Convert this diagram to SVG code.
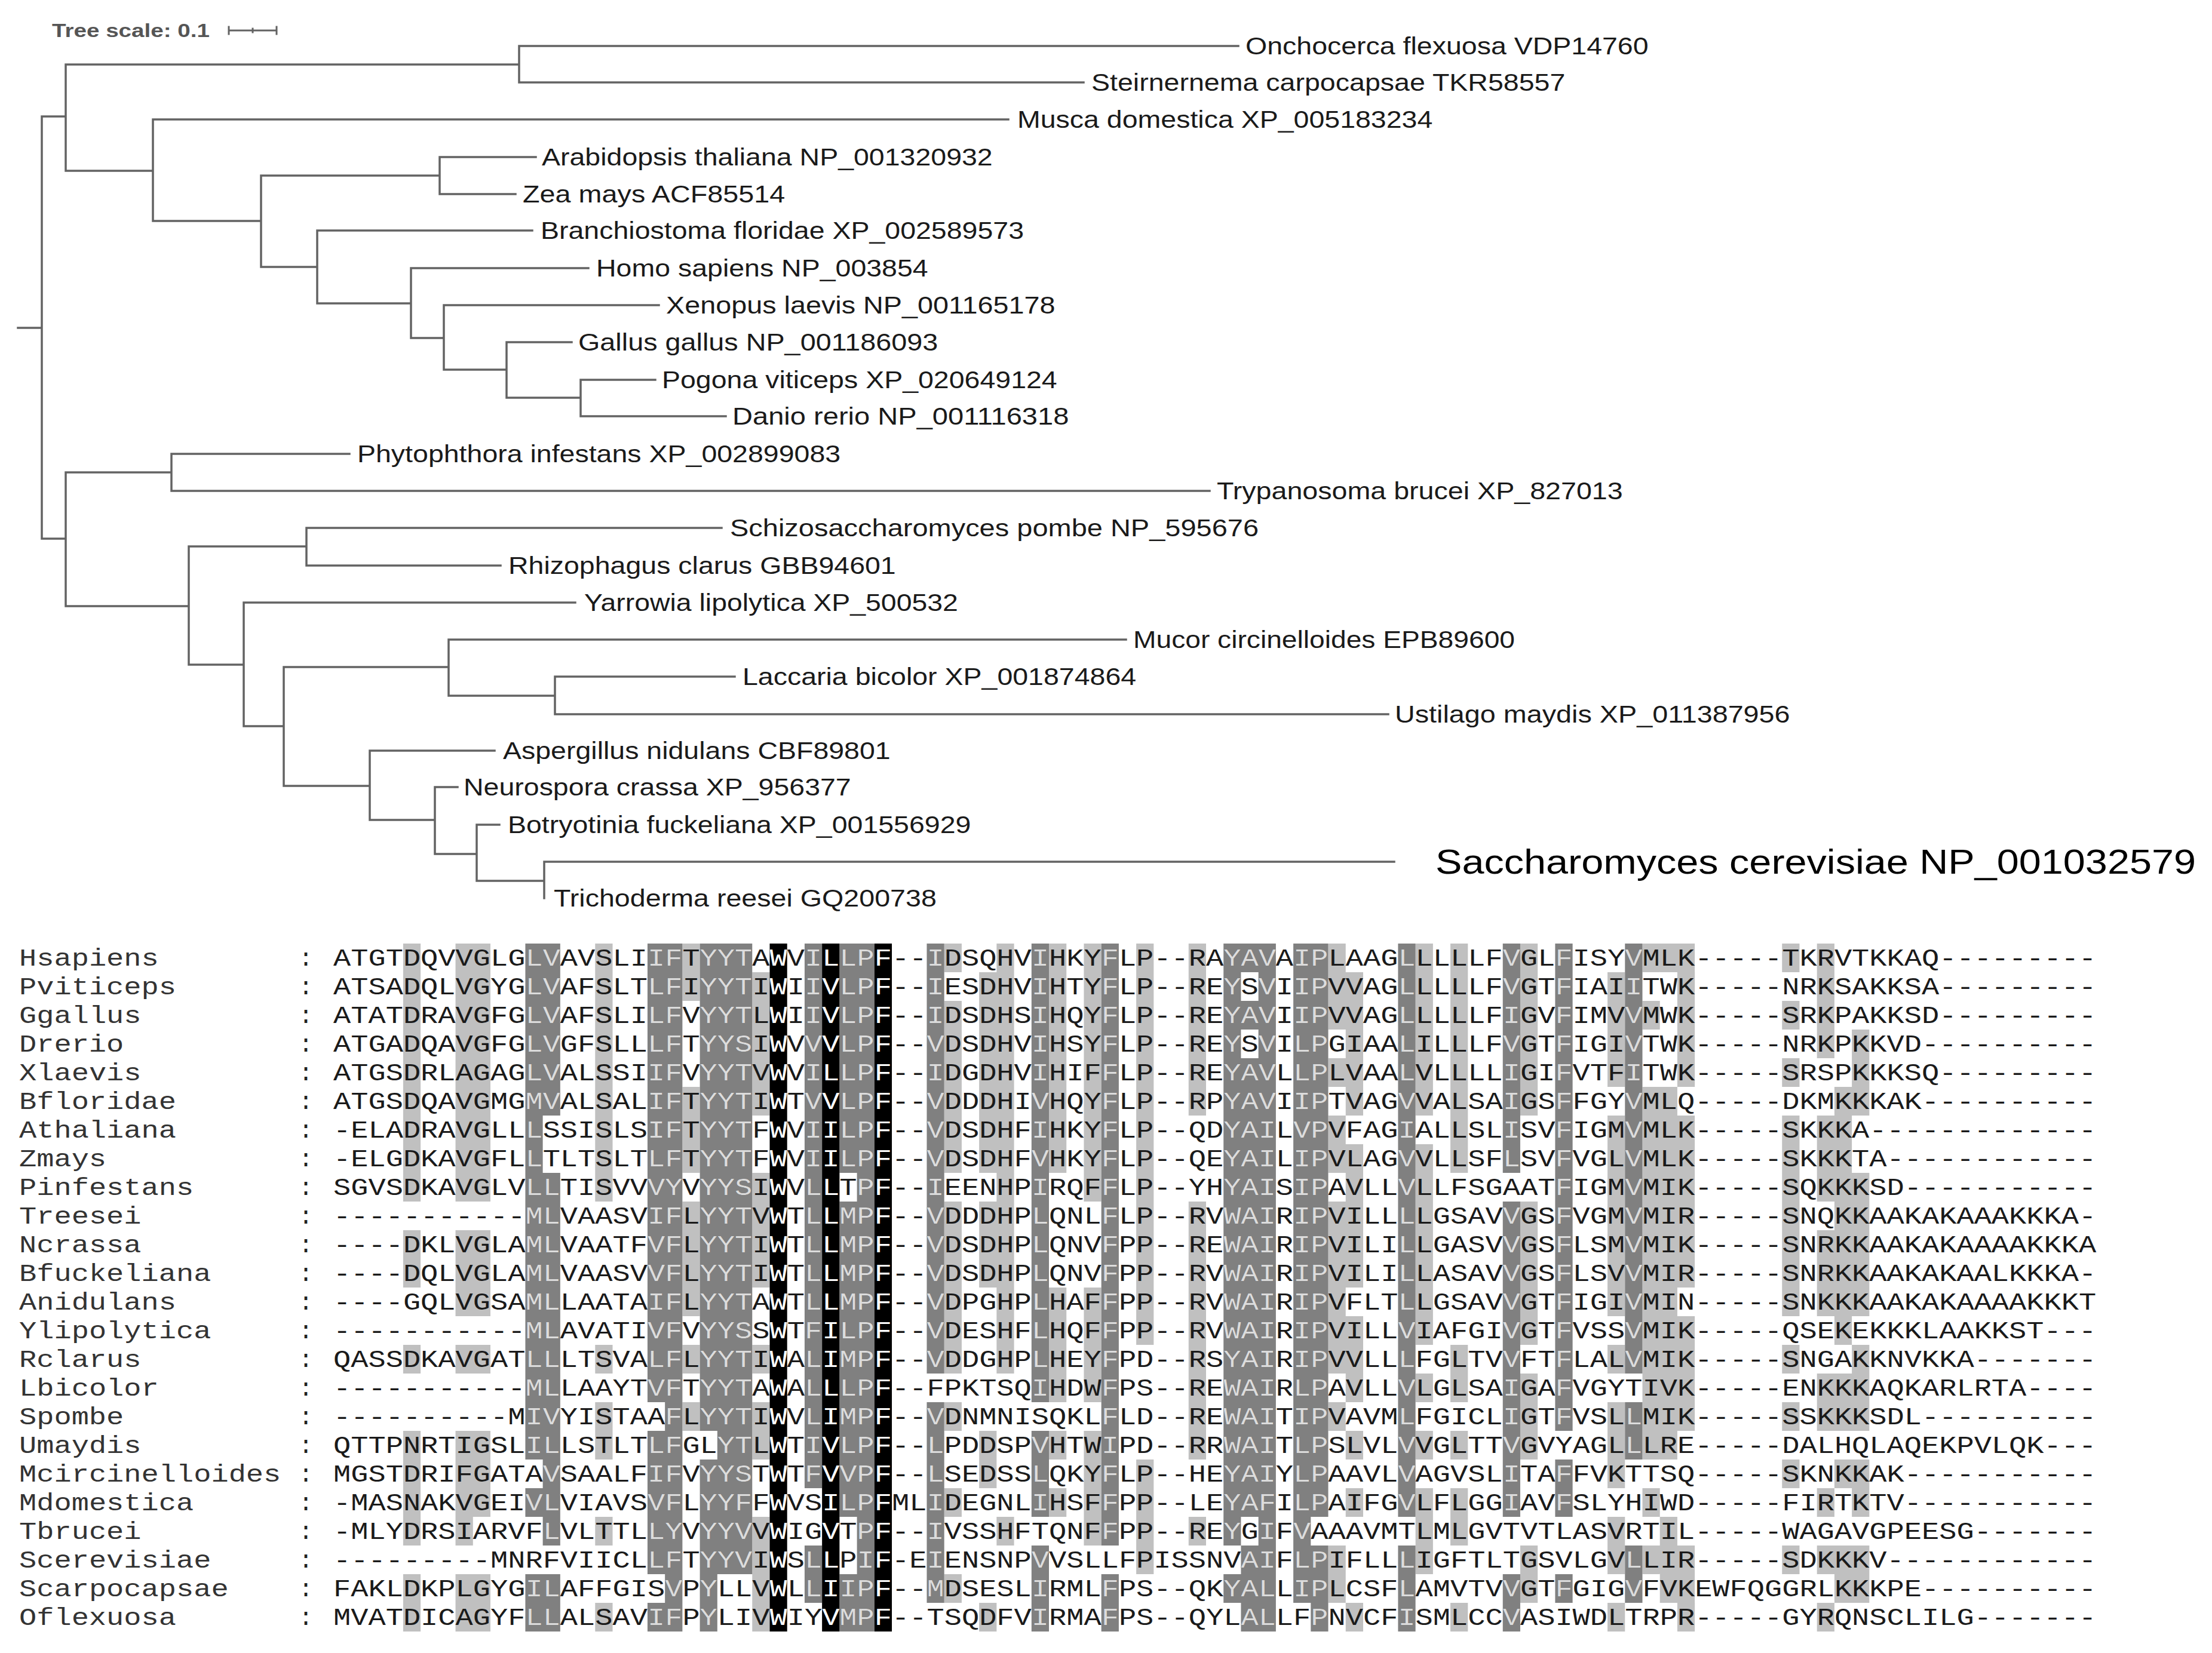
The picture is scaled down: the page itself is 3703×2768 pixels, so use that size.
<svg xmlns="http://www.w3.org/2000/svg" width="3703" height="2768" viewBox="0 0 3703 2768">
<style>
.lbl{font-family:"Liberation Sans",Arial,sans-serif;font-size:40px;fill:#1a1a1a}
.big{font-family:"Liberation Sans",Arial,sans-serif;font-size:57px;fill:#000}
.scl{font-family:"Liberation Sans",Arial,sans-serif;font-size:31px;font-weight:bold;fill:#555}
.mono{font-family:"Liberation Mono","Courier New",monospace;font-size:40px}
.br{fill:none;stroke:#636363;stroke-width:3.5;stroke-linecap:square}
.nm{fill:#333}
</style>
<defs>
<path id="pB" transform="translate(558 1580) scale(29.22 48)" d="M25 0h1v24h-1zM28 0h1v24h-1zM31 0h1v24h-1z"/>
<path id="pD" transform="translate(558 1580) scale(29.22 48)" d="M11 0h1v18h-1zM11 19h1v1h-1zM11 22h1v2h-1zM12 0h1v6h-1zM12 8h1v13h-1zM12 22h1v2h-1zM18 0h1v16h-1zM18 17h1v5h-1zM18 23h1v1h-1zM19 0h1v24h-1zM21 0h1v17h-1zM21 18h1v6h-1zM22 0h1v22h-1zM23 0h1v22h-1zM27 0h1v19h-1zM27 21h1v2h-1zM29 0h1v8h-1zM29 9h1v11h-1zM29 22h1v2h-1zM30 0h1v24h-1zM34 0h1v15h-1zM34 16h1v7h-1zM40 0h1v16h-1zM40 17h1v3h-1zM40 21h1v3h-1zM44 0h1v21h-1zM44 22h1v2h-1zM51 0h1v21h-1zM51 22h1v1h-1zM52 0h1v1h-1zM52 2h1v1h-1zM52 4h1v16h-1zM52 21h1v3h-1zM53 0h1v24h-1zM55 0h1v23h-1zM56 0h1v20h-1zM56 21h1v3h-1zM61 0h1v20h-1zM61 21h1v3h-1zM67 0h1v8h-1zM67 9h1v11h-1zM67 22h1v2h-1zM70 0h1v17h-1zM70 18h1v2h-1zM70 22h1v1h-1zM74 0h1v15h-1zM74 16h1v2h-1zM74 21h1v2h-1z"/>
<path id="pL" transform="translate(558 1580) scale(29.22 48)" d="M4 0h1v9h-1zM4 10h1v2h-1zM4 14h1v1h-1zM4 17h1v4h-1zM4 22h1v2h-1zM7 0h1v9h-1zM7 10h1v3h-1zM7 14h1v1h-1zM7 17h1v4h-1zM7 22h1v2h-1zM8 0h1v9h-1zM8 10h1v3h-1zM8 14h1v1h-1zM8 17h1v3h-1zM8 22h1v2h-1zM15 0h1v9h-1zM15 14h1v1h-1zM15 16h1v2h-1zM15 20h1v1h-1zM15 23h1v1h-1zM20 0h1v2h-1zM20 5h1v3h-1zM20 9h1v4h-1zM20 14h1v1h-1zM20 16h1v1h-1zM24 1h1v5h-1zM24 8h1v4h-1zM24 14h1v1h-1zM24 16h1v2h-1zM24 20h1v4h-1zM35 0h1v1h-1zM35 2h1v6h-1zM35 9h1v6h-1zM35 16h1v1h-1zM35 19h1v1h-1zM35 22h1v1h-1zM37 1h1v7h-1zM37 9h1v3h-1zM37 17h1v2h-1zM37 23h1v1h-1zM38 0h1v15h-1zM38 20h1v1h-1zM41 0h1v8h-1zM41 12h1v4h-1zM41 17h1v1h-1zM41 19h1v1h-1zM43 0h1v9h-1zM43 12h1v4h-1zM43 17h1v4h-1zM46 0h1v14h-1zM46 18h1v4h-1zM49 0h1v6h-1zM49 9h1v9h-1zM49 20h1v1h-1zM57 0h1v3h-1zM57 4h1v1h-1zM57 6h1v2h-1zM57 9h1v6h-1zM57 16h1v1h-1zM57 21h1v2h-1zM58 1h1v5h-1zM58 7h1v5h-1zM58 13h1v3h-1zM58 17h1v1h-1zM58 19h1v1h-1zM58 23h1v1h-1zM62 0h1v6h-1zM62 7h1v7h-1zM62 15h1v1h-1zM62 17h1v1h-1zM62 19h1v3h-1zM64 0h1v8h-1zM64 14h1v2h-1zM64 17h1v1h-1zM64 19h1v2h-1zM64 23h1v1h-1zM68 0h1v6h-1zM68 9h1v5h-1zM68 15h1v3h-1zM68 21h1v2h-1zM73 1h1v4h-1zM73 6h1v7h-1zM73 14h1v1h-1zM73 16h1v3h-1zM73 20h1v2h-1zM73 23h1v1h-1zM75 0h1v1h-1zM75 2h1v1h-1zM75 5h1v13h-1zM75 19h1v1h-1zM75 21h1v1h-1zM76 0h1v1h-1zM76 5h1v13h-1zM76 20h1v3h-1zM77 0h1v5h-1zM77 6h1v6h-1zM77 13h1v4h-1zM77 21h1v3h-1zM83 0h1v1h-1zM83 2h1v1h-1zM83 4h1v1h-1zM83 6h1v7h-1zM83 14h1v1h-1zM83 16h1v1h-1zM83 18h1v1h-1zM83 21h1v1h-1zM85 0h1v4h-1zM85 6h1v3h-1zM85 10h1v3h-1zM85 15h1v2h-1zM85 19h1v1h-1zM85 21h1v1h-1zM85 23h1v1h-1zM86 5h1v9h-1zM86 15h1v2h-1zM86 18h1v1h-1zM86 21h1v2h-1zM87 3h1v3h-1zM87 8h1v5h-1zM87 14h1v3h-1zM87 18h1v2h-1zM87 21h1v2h-1z"/>
<clipPath id="cB"><use href="#pB"/></clipPath>
<clipPath id="cD"><use href="#pD"/></clipPath>
</defs>
<rect width="3703" height="2768" fill="#fff"/>

<g id="tree-scale">
<text class="scl" x="87" y="62" textLength="264" lengthAdjust="spacingAndGlyphs">Tree scale: 0.1</text>
<path class="br" style="stroke-width:3" d="M383 51H463M383 45V57M463 45V57M423 48V54"/>
</g>

<g id="branches">
<path class="br" d="M30 549H70M70 195V902M70 195H110M110 108V286M110 108H869M869 77V138M869 77H2073M869 138H1814M110 286H256M256 200V370M256 200H1688M256 370H437M437 294V447M437 294H736M736 263V325M736 263H897M736 325H863M437 447H531M531 386V508M531 386H891M531 508H688M688 449V566M688 449H985M688 566H743M743 511V619M743 511H1103M743 619H848M848 573V666M848 573H957M848 666H972M972 636V697M972 636H1097M972 697H1215M70 902H110M110 791V1015M110 791H287M287 760V822M287 760H585M287 822H2025M110 1015H316M316 915V1113M316 915H513M513 884V947M513 884H1208M513 947H838M316 1113H408M408 1009V1216M408 1009H963M408 1216H475M475 1117V1316M475 1117H751M751 1071V1165M751 1071H1885M751 1165H929M929 1133V1196M929 1133H1230M929 1196H2324M475 1316H619M619 1257V1373M619 1257H828M619 1373H728M728 1318V1430M728 1318H766M728 1430H798M798 1381V1475M798 1381H836M798 1475H911M911 1443V1504M911 1443H2334"/>
</g>

<g id="leaf-onchocerca"><text class="lbl" x="2085" y="91" textLength="674.6" lengthAdjust="spacingAndGlyphs">Onchocerca flexuosa VDP14760</text></g>
<g id="leaf-steirnernema"><text class="lbl" x="1827" y="152" textLength="793.4" lengthAdjust="spacingAndGlyphs">Steirnernema carpocapsae TKR58557</text></g>
<g id="leaf-musca"><text class="lbl" x="1703" y="214" textLength="695.3" lengthAdjust="spacingAndGlyphs">Musca domestica XP_005183234</text></g>
<g id="leaf-arabidopsis"><text class="lbl" x="907" y="277" textLength="754.7" lengthAdjust="spacingAndGlyphs">Arabidopsis thaliana NP_001320932</text></g>
<g id="leaf-zea"><text class="lbl" x="875" y="339" textLength="439.3" lengthAdjust="spacingAndGlyphs">Zea mays ACF85514</text></g>
<g id="leaf-branchiostoma"><text class="lbl" x="905" y="400" textLength="809" lengthAdjust="spacingAndGlyphs">Branchiostoma floridae XP_002589573</text></g>
<g id="leaf-homo"><text class="lbl" x="998" y="463" textLength="555.7" lengthAdjust="spacingAndGlyphs">Homo sapiens NP_003854</text></g>
<g id="leaf-xenopus"><text class="lbl" x="1115" y="525" textLength="651.4" lengthAdjust="spacingAndGlyphs">Xenopus laevis NP_001165178</text></g>
<g id="leaf-gallus"><text class="lbl" x="968" y="587" textLength="602.2" lengthAdjust="spacingAndGlyphs">Gallus gallus NP_001186093</text></g>
<g id="leaf-pogona"><text class="lbl" x="1108" y="650" textLength="661.7" lengthAdjust="spacingAndGlyphs">Pogona viticeps XP_020649124</text></g>
<g id="leaf-danio"><text class="lbl" x="1226" y="711" textLength="563.4" lengthAdjust="spacingAndGlyphs">Danio rerio NP_001116318</text></g>
<g id="leaf-phytophthora"><text class="lbl" x="598" y="774" textLength="809.1" lengthAdjust="spacingAndGlyphs">Phytophthora infestans XP_002899083</text></g>
<g id="leaf-trypanosoma"><text class="lbl" x="2037" y="836" textLength="679.7" lengthAdjust="spacingAndGlyphs">Trypanosoma brucei XP_827013</text></g>
<g id="leaf-schizosaccharomyces"><text class="lbl" x="1222" y="898" textLength="885" lengthAdjust="spacingAndGlyphs">Schizosaccharomyces pombe NP_595676</text></g>
<g id="leaf-rhizophagus"><text class="lbl" x="851" y="961" textLength="648.7" lengthAdjust="spacingAndGlyphs">Rhizophagus clarus GBB94601</text></g>
<g id="leaf-yarrowia"><text class="lbl" x="978" y="1023" textLength="625.9" lengthAdjust="spacingAndGlyphs">Yarrowia lipolytica XP_500532</text></g>
<g id="leaf-mucor"><text class="lbl" x="1897" y="1085" textLength="639" lengthAdjust="spacingAndGlyphs">Mucor circinelloides EPB89600</text></g>
<g id="leaf-laccaria"><text class="lbl" x="1243" y="1147" textLength="659.1" lengthAdjust="spacingAndGlyphs">Laccaria bicolor XP_001874864</text></g>
<g id="leaf-ustilago"><text class="lbl" x="2335" y="1210" textLength="661.6" lengthAdjust="spacingAndGlyphs">Ustilago maydis XP_011387956</text></g>
<g id="leaf-aspergillus"><text class="lbl" x="842" y="1271" textLength="648.7" lengthAdjust="spacingAndGlyphs">Aspergillus nidulans CBF89801</text></g>
<g id="leaf-neurospora"><text class="lbl" x="776" y="1332" textLength="648.7" lengthAdjust="spacingAndGlyphs">Neurospora crassa XP_956377</text></g>
<g id="leaf-botryotinia"><text class="lbl" x="850" y="1395" textLength="775.4" lengthAdjust="spacingAndGlyphs">Botryotinia fuckeliana XP_001556929</text></g>
<g id="leaf-saccharomyces"><text class="big" x="2403" y="1463" textLength="1273" lengthAdjust="spacingAndGlyphs">Saccharomyces cerevisiae NP_001032579</text></g>
<g id="leaf-trichoderma"><text class="lbl" x="927" y="1518" textLength="640.9" lengthAdjust="spacingAndGlyphs">Trichoderma reesei GQ200738</text></g>

<g id="alignment">
<use href="#pL" fill="#c0c0c0"/>
<use href="#pD" fill="#808080"/>
<use href="#pB" fill="#000"/>
<g id="names" class="mono nm">
<text x="32" y="1617" textLength="233.76" lengthAdjust="spacingAndGlyphs">Hsapiens</text>
<text x="32" y="1665" textLength="262.98" lengthAdjust="spacingAndGlyphs">Pviticeps</text>
<text x="32" y="1713" textLength="204.54" lengthAdjust="spacingAndGlyphs">Ggallus</text>
<text x="32" y="1761" textLength="175.32" lengthAdjust="spacingAndGlyphs">Drerio</text>
<text x="32" y="1809" textLength="204.54" lengthAdjust="spacingAndGlyphs">Xlaevis</text>
<text x="32" y="1857" textLength="262.98" lengthAdjust="spacingAndGlyphs">Bfloridae</text>
<text x="32" y="1905" textLength="262.98" lengthAdjust="spacingAndGlyphs">Athaliana</text>
<text x="32" y="1953" textLength="146.1" lengthAdjust="spacingAndGlyphs">Zmays</text>
<text x="32" y="2001" textLength="292.2" lengthAdjust="spacingAndGlyphs">Pinfestans</text>
<text x="32" y="2049" textLength="204.54" lengthAdjust="spacingAndGlyphs">Treesei</text>
<text x="32" y="2097" textLength="204.54" lengthAdjust="spacingAndGlyphs">Ncrassa</text>
<text x="32" y="2145" textLength="321.42" lengthAdjust="spacingAndGlyphs">Bfuckeliana</text>
<text x="32" y="2193" textLength="262.98" lengthAdjust="spacingAndGlyphs">Anidulans</text>
<text x="32" y="2241" textLength="321.42" lengthAdjust="spacingAndGlyphs">Ylipolytica</text>
<text x="32" y="2289" textLength="204.54" lengthAdjust="spacingAndGlyphs">Rclarus</text>
<text x="32" y="2337" textLength="233.76" lengthAdjust="spacingAndGlyphs">Lbicolor</text>
<text x="32" y="2385" textLength="175.32" lengthAdjust="spacingAndGlyphs">Spombe</text>
<text x="32" y="2433" textLength="204.54" lengthAdjust="spacingAndGlyphs">Umaydis</text>
<text x="32" y="2481" textLength="438.3" lengthAdjust="spacingAndGlyphs">Mcircinelloides</text>
<text x="32" y="2529" textLength="292.2" lengthAdjust="spacingAndGlyphs">Mdomestica</text>
<text x="32" y="2577" textLength="204.54" lengthAdjust="spacingAndGlyphs">Tbrucei</text>
<text x="32" y="2625" textLength="321.42" lengthAdjust="spacingAndGlyphs">Scerevisiae</text>
<text x="32" y="2673" textLength="350.64" lengthAdjust="spacingAndGlyphs">Scarpocapsae</text>
<text x="32" y="2721" textLength="262.98" lengthAdjust="spacingAndGlyphs">Oflexuosa</text>
</g>
<g id="colons" class="mono" fill="#222">
<text x="500" y="1617">:</text><text x="500" y="1665">:</text><text x="500" y="1713">:</text><text x="500" y="1761">:</text><text x="500" y="1809">:</text><text x="500" y="1857">:</text><text x="500" y="1905">:</text><text x="500" y="1953">:</text><text x="500" y="2001">:</text><text x="500" y="2049">:</text><text x="500" y="2097">:</text><text x="500" y="2145">:</text><text x="500" y="2193">:</text><text x="500" y="2241">:</text><text x="500" y="2289">:</text><text x="500" y="2337">:</text><text x="500" y="2385">:</text><text x="500" y="2433">:</text><text x="500" y="2481">:</text><text x="500" y="2529">:</text><text x="500" y="2577">:</text><text x="500" y="2625">:</text><text x="500" y="2673">:</text><text x="500" y="2721">:</text>
</g>
<g fill="#1a1a1a">
<g id="seqs" class="mono">
<text x="558" y="1617" textLength="2951.2" lengthAdjust="spacingAndGlyphs">ATGTDQVVGLGLVAVSLIIFTYYTAWVILLPF--IDSQHVIHKYFLP--RAYAVAIPLAAGLLLLLFVGLFISYVMLK-----TKRVTKKAQ---------</text>
<text x="558" y="1665" textLength="2951.2" lengthAdjust="spacingAndGlyphs">ATSADQLVGYGLVAFSLTLFIYYTIWIIVLPF--IESDHVIHTYFLP--REYSVIIPVVAGLLLLLFVGTFIAIITWK-----NRKSAKKSA---------</text>
<text x="558" y="1713" textLength="2951.2" lengthAdjust="spacingAndGlyphs">ATATDRAVGFGLVAFSLILFVYYTLWIIVLPF--IDSDHSIHQYFLP--REYAVIIPVVAGLLLLLFIGVFIMVVMWK-----SRKPAKKSD---------</text>
<text x="558" y="1761" textLength="2951.2" lengthAdjust="spacingAndGlyphs">ATGADQAVGFGLVGFSLLLFTYYSIWVVVLPF--VDSDHVIHSYFLP--REYSVILPGIAALILLLFVGTFIGIVTWK-----NRKPKKVD----------</text>
<text x="558" y="1809" textLength="2951.2" lengthAdjust="spacingAndGlyphs">ATGSDRLAGAGLVALSSIIFVYYTVWVILLPF--IDGDHVIHIFFLP--REYAVLLPLVAALVLLLLIGIFVTFITWK-----SRSPKKKSQ---------</text>
<text x="558" y="1857" textLength="2951.2" lengthAdjust="spacingAndGlyphs">ATGSDQAVGMGMVALSALIFTYYTIWTVVLPF--VDDDHIVHQYFLP--RPYAVIIPTVAGVVALSAIGSFFGYVMLQ-----DKMKKKAK----------</text>
<text x="558" y="1905" textLength="2951.2" lengthAdjust="spacingAndGlyphs">-ELADRAVGLLLSSISLSIFTYYTFWVIILPF--VDSDHFIHKYFLP--QDYAILVPVFAGIALLSLISVFIGMVMLK-----SKKKA-------------</text>
<text x="558" y="1953" textLength="2951.2" lengthAdjust="spacingAndGlyphs">-ELGDKAVGFLLTLTSLTLFTYYTFWVIILPF--VDSDHFVHKYFLP--QEYAILIPVLAGVVLLSFLSVFVGLVMLK-----SKKKTA------------</text>
<text x="558" y="2001" textLength="2951.2" lengthAdjust="spacingAndGlyphs">SGVSDKAVGLVLLTISVVVYVYYSIWVLLTPF--IEENHPIRQFFLP--YHYAISIPAVLLVLLFSGAATFIGMVMIK-----SQKKKSD-----------</text>
<text x="558" y="2049" textLength="2951.2" lengthAdjust="spacingAndGlyphs">-----------MLVAASVIFLYYTVWTLLMPF--VDDDHPLQNLFLP--RVWAIRIPVILLLLGSAVVGSFVGMVMIR-----SNQKKAAKAKAAAKKKA-</text>
<text x="558" y="2097" textLength="2951.2" lengthAdjust="spacingAndGlyphs">----DKLVGLAMLVAATFVFLYYTIWTLLMPF--VDSDHPLQNVFPP--REWAIRIPVILILLGASVVGSFLSMVMIK-----SNRKKAAKAKAAAAKKKA</text>
<text x="558" y="2145" textLength="2951.2" lengthAdjust="spacingAndGlyphs">----DQLVGLAMLVAASVVFLYYTIWTLLMPF--VDSDHPLQNVFPP--RVWAIRIPVILILLASAVVGSFLSVVMIR-----SNRKKAAKAKAALKKKA-</text>
<text x="558" y="2193" textLength="2951.2" lengthAdjust="spacingAndGlyphs">----GQLVGSAMLLAATAIFLYYTAWTLLMPF--VDPGHPLHAFFPP--RVWAIRIPVFLTLLGSAVVGTFIGIVMIN-----SNKKKAAKAKAAAAKKKT</text>
<text x="558" y="2241" textLength="2951.2" lengthAdjust="spacingAndGlyphs">-----------MLAVATIVFVYYSSWTFILPF--VDESHFLHQFFPP--RVWAIRIPVILLVIAFGIVGTFVSSVMIK-----QSEKEKKKLAAKKST---</text>
<text x="558" y="2289" textLength="2951.2" lengthAdjust="spacingAndGlyphs">QASSDKAVGATLLLTSVALFLYYTIWALIMPF--VDDGHPLHEYFPD--RSYAIRIPVVLLLFGLTVVFTFLALVMIK-----SNGAKKNVKKA-------</text>
<text x="558" y="2337" textLength="2951.2" lengthAdjust="spacingAndGlyphs">-----------MLLAAYTVFTYYTAWALLLPF--FPKTSQIHDWFPS--REWAIRLPAVLLVLGLSAIGAFVGYTIVK-----ENKKKAQKARLRTA----</text>
<text x="558" y="2385" textLength="2951.2" lengthAdjust="spacingAndGlyphs">----------MIVYISTAAFLYYTIWVLIMPF--VDNMNISQKLFLD--REWAITIPVAVMLFGICLIGTFVSLLMIK-----SSKKKSDL----------</text>
<text x="558" y="2433" textLength="2951.2" lengthAdjust="spacingAndGlyphs">QTTPNRTIGSLILLSTLTLFGLYTLWTIVLPF--LPDDSPVHTWIPD--RRWAITLPSLVLVVGLTTVGVYAGLLLRE-----DALHQLAQEKPVLQK---</text>
<text x="558" y="2481" textLength="2951.2" lengthAdjust="spacingAndGlyphs">MGSTDRIFGATAVSAALFIFVYYSTWTFVVPF--LSEDSSLQKYFLP--HEYAIYLPAAVLVAGVSLITAFFVKTTSQ-----SKNKKAK-----------</text>
<text x="558" y="2529" textLength="2951.2" lengthAdjust="spacingAndGlyphs">-MASNAKVGEIVLVIAVSVFLYYFFWVSILPFMLIDEGNLIHSFFPP--LEYAFILPAIFGVLFLGGIAVFSLYHIWD-----FIRTKTV-----------</text>
<text x="558" y="2577" textLength="2951.2" lengthAdjust="spacingAndGlyphs">-MLYDRSIARVFLVLTTLLYVYYVVWIGVTPF--IVSSHFTQNFFPP--REYGIFVAAAVMTLMLGVTVTLASVRTIL-----WAGAVGPEESG-------</text>
<text x="558" y="2625" textLength="2951.2" lengthAdjust="spacingAndGlyphs">---------MNRFVIICLLFTYYVIWSLLPIF-EIENSNPVVSLLFPISSNVAIFLPIFLLLIGFTLTGSVLGVLLIR-----SDKKKV------------</text>
<text x="558" y="2673" textLength="2951.2" lengthAdjust="spacingAndGlyphs">FAKLDKPLGYGILAFFGISVPYLLVWLLIIPF--MDSESLIRMLFPS--QKYALLIPLCSFLAMVTVVGTFGIGVFVKEWFQGGRLKKKPE----------</text>
<text x="558" y="2721" textLength="2951.2" lengthAdjust="spacingAndGlyphs">MVATDICAGYFLLALSAVIFPYLIVWIYVMPF--TSQDFVIRMAFPS--QYLALLFPNVCFISMLCCVASIWDLTRPR-----GYRQNSCLILG-------</text>
</g>
</g>
<use href="#seqs" fill="#dcdcdc" clip-path="url(#cD)"/>
<use href="#seqs" fill="#ffffff" clip-path="url(#cB)"/>
</g>
</svg>
